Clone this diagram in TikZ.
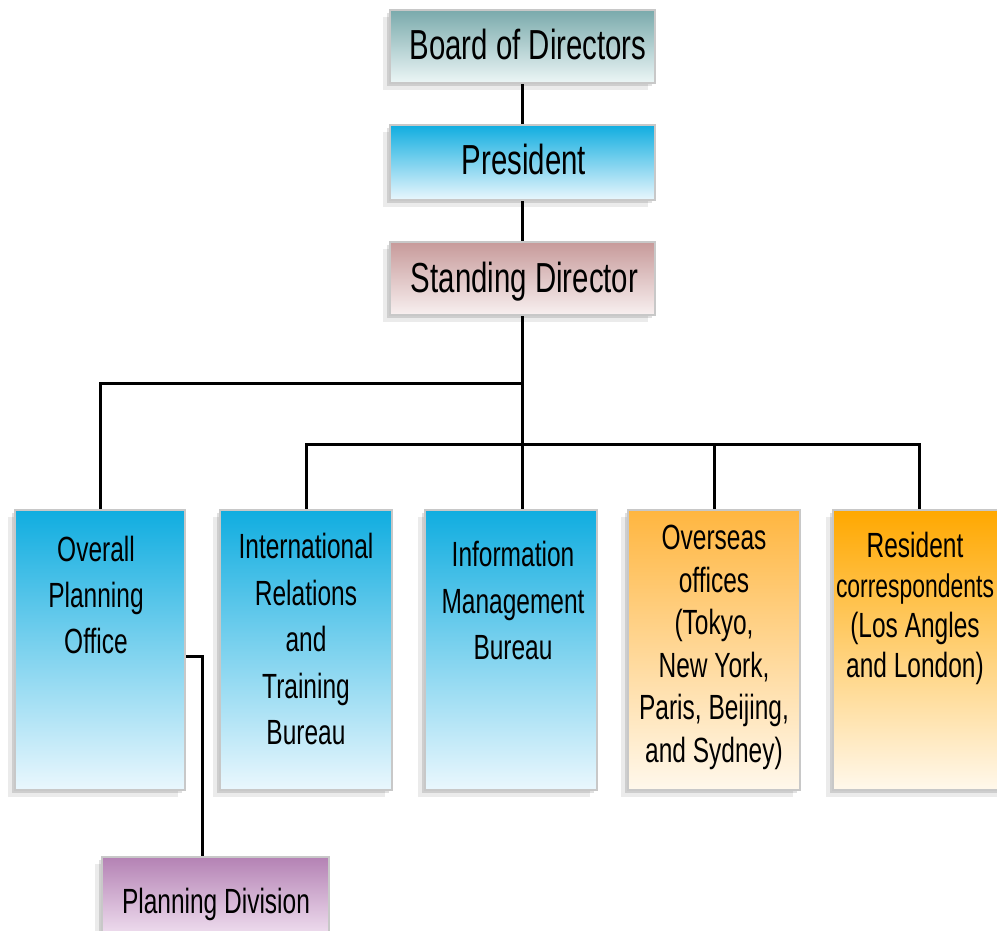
\documentclass[tikz,border=0pt]{standalone}
\usepackage{fontspec}
\setmainfont{Liberation Sans}[FakeStretch=0.70]
\usetikzlibrary{shadows}
\definecolor{bdTop}{RGB}{122,170,172}
\definecolor{bdBot}{RGB}{236,246,246}
\definecolor{blTop}{RGB}{16,173,224}
\definecolor{blBot}{RGB}{234,247,253}
\definecolor{sdTop}{RGB}{199,154,154}
\definecolor{sdBot}{RGB}{248,240,240}
\definecolor{orTop}{RGB}{255,182,64}
\definecolor{orBot}{RGB}{255,248,236}
\definecolor{rsTop}{RGB}{255,168,0}
\definecolor{pdTop}{RGB}{180,130,180}
\definecolor{pdBot}{RGB}{248,236,248}
\definecolor{edge}{RGB}{200,200,200}
\tikzset{
  box/.style={rectangle, draw=edge, line width=2.5pt, inner sep=0pt,
    drop shadow={shadow xshift=-3pt, shadow yshift=-3pt, fill=black, opacity=0.12},
    drop shadow={shadow xshift=-7pt, shadow yshift=-7pt, fill=black, opacity=0.08}},
  topbox/.style={box, minimum width=265pt},
  lowbox/.style={box, minimum width=172pt, minimum height=280pt},
  toptext/.style={anchor=base, inner sep=0pt, font=\fontsize{42}{46}\selectfont, text=black},
  lowtext/.style={anchor=north, inner sep=0pt, align=center, text=black},
  wire/.style={draw=black, line width=3pt}
}
\begin{document}
\begin{tikzpicture}[x=1pt, y=-1pt]
\useasboundingbox (0,0) rectangle (997,931);
% top boxes
\node[topbox, minimum height=73pt, top color=bdTop, bottom color=bdBot] (bod) at (522.5,46.5) {};
\node[topbox, minimum height=75pt, top color=blTop, bottom color=blBot] (pres) at (522.5,162.5) {};
\node[topbox, minimum height=73pt, top color=sdTop, bottom color=sdBot] (sd) at (522.5,278.5) {};
\node[toptext] (bodt) at (528,60) {Board of Directors};
\node[toptext] (prest) at (524,175) {President};
\node[toptext] (sdt) at (524.5,292) {Standing Director};
% lower boxes
\node[lowbox, minimum width=170pt, top color=blTop, bottom color=blBot] (opo) at (100,650) {};
\node[lowbox, top color=blTop, bottom color=blBot] (irt) at (306,650) {};
\node[lowbox, top color=blTop, bottom color=blBot] (imb) at (511,650) {};
\node[lowbox, top color=orTop, bottom color=orBot] (ovs) at (714,650) {};
\node[lowbox, top color=rsTop, bottom color=orBot] (res) at (919,650) {};
\node[box, minimum width=227pt, minimum height=90pt, top color=pdTop, bottom color=pdBot] (pd) at (215.5,902) {};
% lower texts
\node[lowtext, font=\fontsize{35}{46}\selectfont] (opot) at (96,536) {Overall\\Planning\\Office};
\node[lowtext, font=\fontsize{35}{46.5}\selectfont] (irtt) at (306,533) {International\\Relations\\and\\Training\\Bureau};
\node[lowtext, font=\fontsize{35}{46.5}\selectfont] (imbt) at (513,541) {Information\\Management\\Bureau};
\node[lowtext, font=\fontsize{35}{42.5}\selectfont] (ovst) at (714,525) {Overseas\\offices\\(Tokyo,\\New York,\\Paris, Beijing,\\and Sydney)};
\node[lowtext, font=\fontsize{35}{40}\selectfont] (rest) at (915,532) {Resident\\\resizebox{158pt}{!}{correspondents}\\(Los Angles\\and London)};
\node[anchor=base, inner sep=0pt, font=\fontsize{35}{40}\selectfont] (pdt) at (216,913) {Planning Division};
% junctions
\coordinate (j1) at (523,383);
\coordinate (j2) at (523,444);
% connectors
\draw[wire] (bod.south) -- (pres.north);
\draw[wire] (pres.south) -- (sd.north);
\draw[wire] (sd.south) -- (sd.south |- imb.north);
\draw[wire] (sd.south |- j1) -| (opo.north);
\draw[wire] (irt.north) |- (res.north |- j2) -- (res.north);
\draw[wire] (ovs.north) -- (ovs.north |- j2);
\draw[wire] ([yshift=-6pt]opo.east) -| ([xshift=-13.5pt]pd.north);
\end{tikzpicture}
\end{document}
